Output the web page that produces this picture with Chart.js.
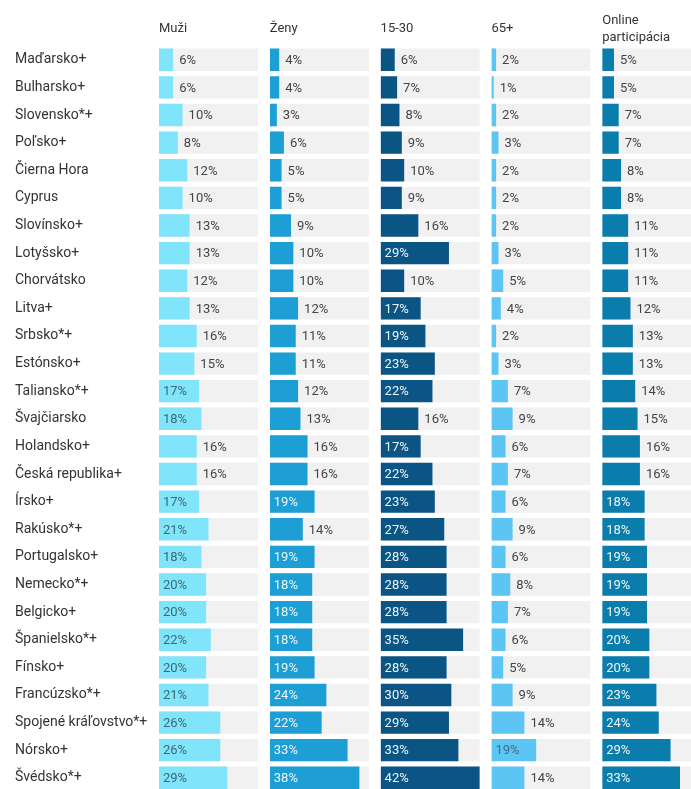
<!DOCTYPE html>
<html lang="sk">
<head>
<meta charset="utf-8">
<title>Participácia podľa krajín</title>
<script src="https://cdn.jsdelivr.net/npm/chart.js@4/dist/chart.umd.min.js"></script>
<style>
  html, body { margin: 0; padding: 0; background: #fff; overflow: hidden; }
  #wrap { position: relative; width: 713px; height: 800px; }
</style>
</head>
<body>
<div id="wrap"><canvas id="chart"></canvas></div>
<script>
const countries = [
  "Maďarsko+", "Bulharsko+", "Slovensko*+", "Poľsko+", "Čierna Hora", "Cyprus",
  "Slovínsko+", "Lotyšsko+", "Chorvátsko", "Litva+", "Srbsko*+", "Estónsko+",
  "Taliansko*+", "Švajčiarsko", "Holandsko+", "Česká republika+", "Írsko+",
  "Rakúsko*+", "Portugalsko+", "Nemecko*+", "Belgicko+", "Španielsko*+", "Fínsko+",
  "Francúzsko*+", "Spojené kráľovstvo*+", "Nórsko+", "Švédsko*+"
];

const headers = ["Muži", "Ženy", "15-30", "65+", ["Online", "participácia"]];

const men    = [6, 6, 10, 8, 12, 10, 13, 13, 12, 13, 16, 15, 17, 18, 16, 16, 17, 21, 18, 20, 20, 22, 20, 21, 26, 26, 29];
const women  = [4, 4, 3, 6, 5, 5, 9, 10, 10, 12, 11, 11, 12, 13, 16, 16, 19, 14, 19, 18, 18, 18, 19, 24, 22, 33, 38];
const young  = [6, 7, 8, 9, 10, 9, 16, 29, 10, 17, 19, 23, 22, 16, 17, 22, 23, 27, 28, 28, 28, 35, 28, 30, 29, 33, 42];
const senior = [2, 1, 2, 3, 2, 2, 2, 3, 5, 4, 2, 3, 7, 9, 6, 7, 6, 9, 6, 8, 7, 6, 5, 9, 14, 19, 14];
const online = [5, 5, 7, 7, 8, 8, 11, 11, 11, 12, 13, 13, 14, 15, 16, 16, 18, 18, 19, 19, 19, 20, 20, 23, 24, 29, 33];

const series = [men, women, young, senior, online];
const barColors = ["#80e5fa", "#1d9fd5", "#0b5584", "#5cc5f4", "#0a7dac"];
const insideText = ["#3a6a74", "#eef6fa", "#eef6fa", "#3d6d8c", "#eef6fa"];

// every column shares one grey track, as long as the biggest value
const trackMax = Math.max(...series.flat());

const datasets = [];
series.forEach((values, i) => {
  datasets.push({
    data: values,
    xAxisID: "x" + i,
    backgroundColor: barColors[i],
    grouped: false,
    order: 0,
    barPercentage: 0.81,
    categoryPercentage: 1
  });
});
series.forEach((values, i) => {
  datasets.push({
    data: values.map(() => trackMax),
    xAxisID: "x" + i,
    backgroundColor: "#f1f1f1",
    grouped: false,
    order: 1,
    barPercentage: 0.81,
    categoryPercentage: 1
  });
});

const scales = {
  y: {
    type: "category",
    grid: { display: false },
    border: { display: false },
    ticks: {
      crossAlign: "far",
      color: "#333",
      padding: 0,
      font: { family: "Roboto", size: 14 }
    },
    afterFit: (scale) => { scale.width = 144; }
  }
};
headers.forEach((title, i) => {
  const twoLines = Array.isArray(title);
  scales["x" + i] = {
    type: "linear",
    position: "top",
    stack: "columns",
    stackWeight: 1,
    weight: headers.length - i,
    min: 0,
    max: 47,
    grid: { display: false, drawTicks: false },
    border: { display: false },
    ticks: { display: false },
    title: {
      display: true,
      text: title,
      align: "start",
      color: "#333",
      font: { family: "Roboto", size: 13, lineHeight: 17 / 13 },
      // same box height for one- and two-line headers
      padding: twoLines ? { top: 8, bottom: 0 } : { top: 16, bottom: 9 }
    }
  };
});

// percentage labels: inside the bar when it fits, otherwise just after it
const valueLabels = {
  id: "valueLabels",
  afterDatasetsDraw(chart) {
    const ctx = chart.ctx;
    ctx.save();
    ctx.font = "13px Roboto";
    ctx.textBaseline = "middle";
    ctx.textAlign = "left";
    series.forEach((values, i) => {
      const meta = chart.getDatasetMeta(i);
      meta.data.forEach((bar, j) => {
        const text = values[j] + "%";
        const w = ctx.measureText(text).width;
        const barWidth = bar.x - bar.base;
        if (barWidth >= w + 14) {
          ctx.fillStyle = insideText[i];
          ctx.fillText(text, bar.base + 4, bar.y + 1);
        } else {
          ctx.fillStyle = "#444";
          ctx.fillText(text, bar.x + 6, bar.y + 1);
        }
      });
    });
    ctx.restore();
  }
};

new Chart(document.getElementById("chart"), {
  type: "bar",
  data: { labels: countries, datasets },
  options: {
    indexAxis: "y",
    responsive: true,
    maintainAspectRatio: false,
    animation: false,
    layout: { padding: { left: 15, top: 4, right: 0, bottom: 0 } },
    plugins: {
      legend: { display: false },
      tooltip: { enabled: false }
    },
    scales
  },
  plugins: [valueLabels]
});
</script>
</body>
</html>
